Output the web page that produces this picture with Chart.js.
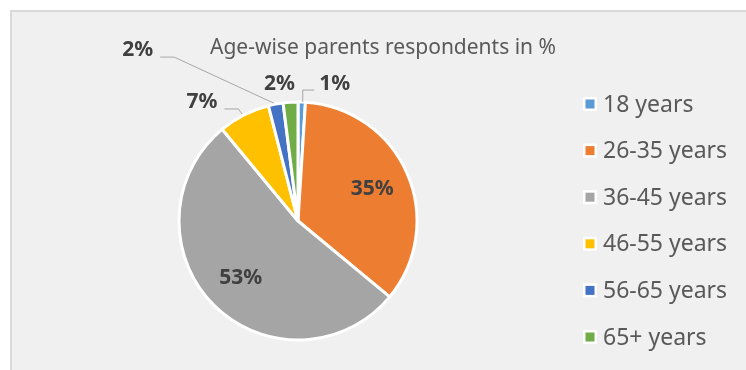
<!DOCTYPE html>
<html lang="en">
<head>
    <meta charset="UTF-8">
    <title>Age-wise parents respondents</title>
    <style>
        body {
            margin: 0;
            padding: 0;
            background-color: #fff;
            width: 746px;
            height: 370px;
            overflow: hidden;
            position: relative;
        }

        .frame {
            position: absolute;
            left: 10px;
            top: 10px;
            width: 760px;
            height: 400px;
            background-color: #f0f0f0;
            border: 2px solid #d9d9d9;
        }

        #ageChart {
            position: absolute;
            left: 0;
            top: 0;
        }
    </style>
</head>
<body>

<div class="frame"></div>
<canvas id="ageChart" width="746" height="370"></canvas>

<script src="https://cdn.jsdelivr.net/npm/chart.js"></script>

<script>
    const chartTitle = 'Age-wise parents respondents in %';
    const ageGroups = ['18 years', '26-35 years', '36-45 years', '46-55 years', '56-65 years', '65+ years'];
    const percentages = [1, 35, 53, 7, 2, 2];
    const sliceColors = ['#5b9bd5', '#ed7d31', '#a5a5a5', '#ffc000', '#4472c4', '#70ad47'];

    // where each percentage label goes: inside the slice, or pushed out by (dx, dy) from the rim
    const labelPlacement = [
        { inside: false, dx: 33, dy: -18, leader: 'up' },
        { inside: true },
        { inside: true },
        { inside: false, dx: -42, dy: -13, leader: 'left' },
        { inside: false, dx: -138, dy: -54, leader: 'left' },
        { inside: false, dx: -11, dy: -18, leader: null }
    ];

    const FONT = '"Noto Sans", "Open Sans", sans-serif';

    const pieExtras = {
        id: 'pieExtras',
        afterDatasetsDraw(chart) {
            const ctx = chart.ctx;
            const arcs = chart.getDatasetMeta(0).data;

            ctx.save();

            // title
            ctx.fillStyle = '#595959';
            ctx.font = '21px ' + FONT;
            ctx.textAlign = 'center';
            ctx.textBaseline = 'alphabetic';
            ctx.fillText(chartTitle, 383, 54);

            // percentage labels
            ctx.font = 'bold 21px ' + FONT;
            ctx.textBaseline = 'middle';
            arcs.forEach((arc, i) => {
                const p = labelPlacement[i];
                const mid = (arc.startAngle + arc.endAngle) / 2;
                const text = percentages[i] + '%';
                let lx, ly;
                if (p.inside) {
                    const r = arc.outerRadius * 0.68;
                    lx = arc.x + Math.cos(mid) * r;
                    ly = arc.y + Math.sin(mid) * r;
                } else {
                    const ex = arc.x + Math.cos(mid) * arc.outerRadius;
                    const ey = arc.y + Math.sin(mid) * arc.outerRadius;
                    lx = ex + p.dx;
                    ly = ey + p.dy;
                    const half = ctx.measureText(text).width / 2;
                    if (p.leader) {
                        ctx.strokeStyle = '#a6a6a6';
                        ctx.lineWidth = 1;
                        ctx.beginPath();
                        if (p.leader === 'left') {
                            const sx = lx + half + 7;
                            const yy = ly + 7;
                            ctx.moveTo(sx, yy);
                            ctx.lineTo(sx + 14, yy);
                            ctx.lineTo(ex - 2, ey - 1);
                        } else {
                            const sx = lx - half - 5;
                            const yy = ly + 6;
                            ctx.moveTo(sx, yy);
                            ctx.lineTo(ex + 1, yy);
                            ctx.lineTo(ex + 1, ey);
                        }
                        ctx.stroke();
                    }
                }
                ctx.fillStyle = '#404040';
                ctx.textAlign = 'center';
                ctx.fillText(text, lx, ly);
            });

            // legend on the right
            ctx.font = '23px ' + FONT;
            ctx.textAlign = 'left';
            ageGroups.forEach((label, i) => {
                const cy = 104 + i * 46.6;
                ctx.fillStyle = '#ffffff';
                ctx.fillRect(583, cy - 7, 14, 14);
                ctx.fillStyle = sliceColors[i];
                ctx.fillRect(585.5, cy - 4.5, 9, 9);
                ctx.fillStyle = '#595959';
                ctx.fillText(label, 603, cy + 1);
            });

            ctx.restore();
        }
    };

    document.addEventListener('DOMContentLoaded', function () {
        const ctx = document.getElementById('ageChart').getContext('2d');
        new Chart(ctx, {
            type: 'pie',
            data: {
                labels: ageGroups,
                datasets: [{
                    data: percentages,
                    backgroundColor: sliceColors,
                    borderColor: '#ffffff',
                    borderWidth: 3,
                    clip: false
                }]
            },
            options: {
                responsive: false,
                animation: false,
                radius: 119,
                layout: {
                    padding: { left: 177, right: 327, top: 100, bottom: 28 }
                },
                plugins: {
                    legend: { display: false },
                    tooltip: { enabled: false },
                    title: { display: false }
                }
            },
            plugins: [pieExtras]
        });
    });
</script>

</body>
</html>
